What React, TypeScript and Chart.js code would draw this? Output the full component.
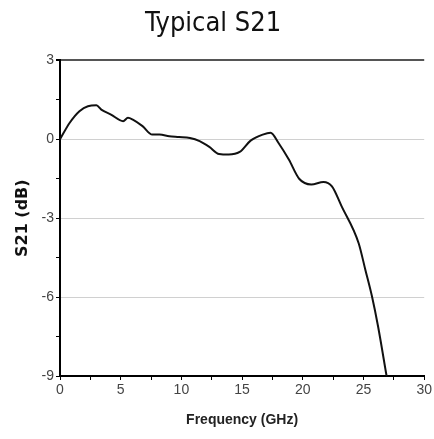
import React, { useEffect, useRef } from "react";
import { Chart, registerables } from "chart.js";
Chart.register(...registerables);

const titleText = "Typical S21";
const xTitle = "Frequency (GHz)";
const yTitle = "S21 (dB)";
const freqGHz = [0, 0.8, 1.6, 2.3, 3.0, 3.4, 4.2, 5.2, 5.6, 6.0, 6.8, 7.6, 8.2, 9.0, 9.8, 10.7, 11.5, 12.3, 13.1, 13.9, 14.8, 15.7, 16.7, 17.35, 18.0, 18.85, 19.7, 20.7, 21.7, 22.4, 23.2, 24.6, 25.15, 25.7, 26.2, 26.9];
const s21dB = [0, 0.63, 1.07, 1.26, 1.29, 1.13, 0.94, 0.69, 0.82, 0.75, 0.5, 0.18, 0.18, 0.12, 0.09, 0.05, -0.07, -0.29, -0.56, -0.58, -0.48, -0.05, 0.18, 0.25, -0.14, -0.77, -1.5, -1.72, -1.62, -1.79, -2.55, -3.95, -4.96, -5.98, -7.12, -9.0];
const xMin = 0, xMax = 30, xStep = 2.5, xLabelStep = 5;
const yMin = -9, yMax = 3, yStep = 1.5, yLabelStep = 3;

export default function App() {
  const ref = useRef<HTMLCanvasElement>(null);
  useEffect(() => {
    const tickFont = { family: "'Liberation Sans Narrow', 'Liberation Sans', Arial, sans-serif", size: 14 };
    const chart = new Chart(ref.current!, {
      type: "line",
      data: {
        datasets: [{
          data: freqGHz.map((f, i) => ({ x: f, y: s21dB[i] })),
          borderColor: "#111",
          borderWidth: 2,
          pointRadius: 0,
          tension: 0.4,
          cubicInterpolationMode: "monotone",
          fill: false,
        }],
      },
      options: {
        animation: false,
        responsive: false,
        maintainAspectRatio: false,
        layout: { padding: { left: 0, right: 8, top: 0, bottom: 0 } },
        plugins: {
          legend: { display: false },
          tooltip: { enabled: false },
          title: {
            display: true,
            text: titleText,
            color: "#111",
            font: { family: "'DejaVu Sans Condensed', 'Open Sans', sans-serif", size: 27, weight: "normal" },
            padding: { top: 8, bottom: 20 },
          },
        },
        scales: {
          x: {
            type: "linear",
            min: xMin, max: xMax,
            afterFit: (s: any) => { s.height = 63; },
            ticks: {
              stepSize: xStep,
              autoSkip: false,
              maxRotation: 0,
              color: "#444",
              font: tickFont,
              padding: 2,
              callback: (v: any) => (Math.abs(v / xLabelStep - Math.round(v / xLabelStep)) < 1e-6 ? String(v) : ""),
            },
            grid: { drawOnChartArea: false, color: "#000", tickLength: 4, tickColor: "#000" },
            border: { color: "#000", width: 2 },
            title: { display: true, text: xTitle, color: "#222", font: { family: "'Liberation Sans Narrow', 'Liberation Sans', Arial, sans-serif", size: 14, weight: "bold" }, padding: { top: 4, bottom: 10 } },
          },
          y: {
            min: yMin, max: yMax,
            afterFit: (s: any) => { s.width = 60; },
            ticks: {
              stepSize: yStep,
              autoSkip: false,
              color: "#444",
              font: tickFont,
              padding: 2,
              callback: (v: any) => (Math.abs(v / yLabelStep - Math.round(v / yLabelStep)) < 1e-6 ? String(v) : ""),
            },
            grid: {
              tickLength: 4,
              tickColor: "#000",
              lineWidth: (c: any) => (c.tick && c.tick.value === 3 ? 2 : 1),
              color: (c: any) => {
                const v = c.tick ? c.tick.value : null;
                if (v === 3) return "#555";
                if (v === 0 || v === -3 || v === -6) return "#d0d0d0";
                return "rgba(0,0,0,0)";
              },
            },
            border: { color: "#000", width: 2 },
            title: { display: true, text: yTitle, color: "#111", font: { family: "'DejaVu Sans', Arial, sans-serif", size: 16, weight: "bold" }, padding: { top: 13, bottom: 0 } },
          },
        },
      },
    });
    return () => chart.destroy();
  }, []);
  return (
    <div style={{ position: "absolute", left: 0, top: 0, width: 434, height: 439, background: "#fff" }}>
      <canvas ref={ref} width={434} height={439} style={{ width: 434, height: 439, display: "block" }} />
    </div>
  );
}
